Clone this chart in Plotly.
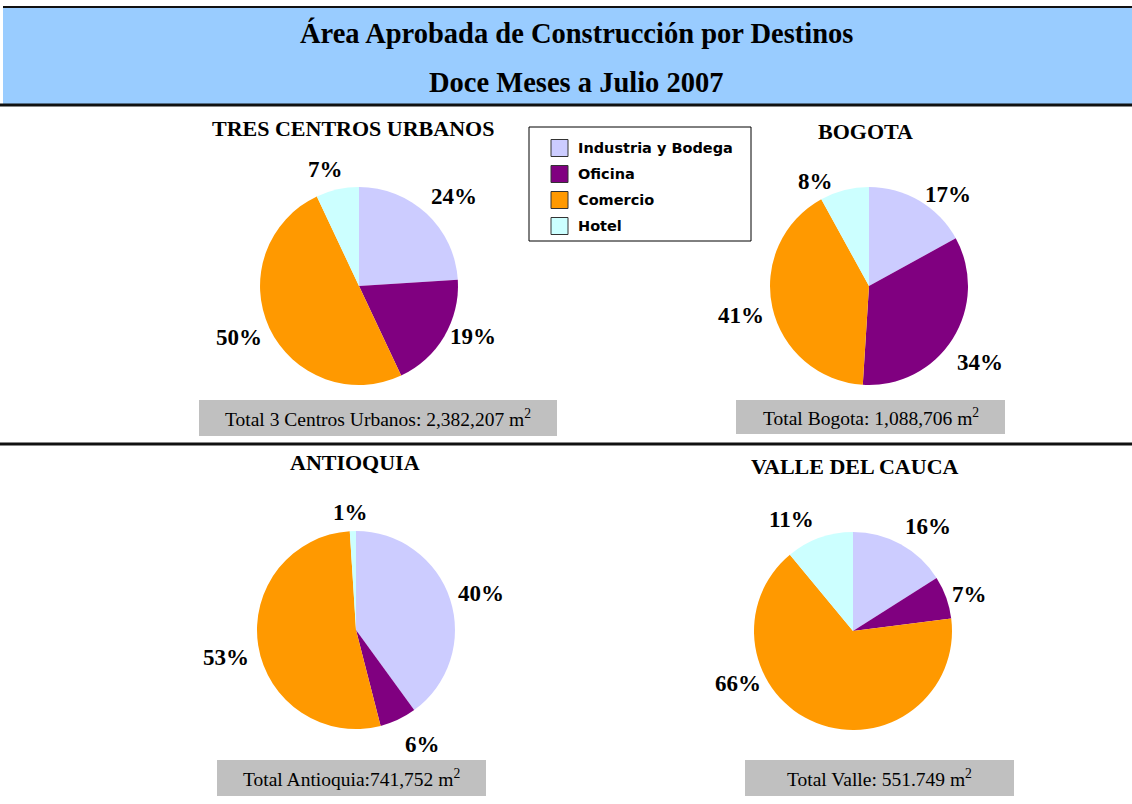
import plotly.graph_objects as go

W, H = 1132, 804

categories = ["Industria y Bodega", "Oficina", "Comercio", "Hotel"]
colors = ["#CCCCFF", "#800080", "#FF9900", "#CCFFFF"]

regions = ["TRES CENTROS URBANOS", "BOGOTA", "ANTIOQUIA", "VALLE DEL CAUCA"]
tres_centros = [24, 19, 50, 7]
bogota = [17, 34, 41, 8]
antioquia = [40, 6, 53, 1]
valle = [16, 7, 66, 11]
totals = [
    "Total 3 Centros Urbanos: 2,382,207 m<sup>2</sup>",
    "Total Bogota: 1,088,706 m<sup>2</sup>",
    "Total Antioquia:741,752 m<sup>2</sup>",
    "Total Valle: 551.749 m<sup>2</sup>",
]
series = [tres_centros, bogota, antioquia, valle]

# ---- layout (pixels) ----
centers = [(359, 286), (869, 286), (356, 630), (853, 631)]
R = 99
title_pos = [(353, 129), (865, 131), (355, 462), (855, 466)]
boxes = [(199, 400, 557, 436), (736, 400, 1005, 434), (217, 760, 486, 796), (745, 760, 1014, 796)]
# positions of the percentage labels (placed like the original chart)
label_pos = [
    [(454, 196), (473, 336), (239, 337), (325, 170)],
    [(948, 195), (980, 362), (741, 315), (815, 181)],
    [(481, 593), (422, 744), (226, 657), (350, 512)],
    [(928, 526), (969, 594), (738, 683), (791, 519)],
]


def px(x):
    return x / W


def py(y):
    return 1 - y / H


def text_ann(text, x, y, size, family="Liberation Serif", xanchor="center"):
    return dict(text=text, x=px(x), y=py(y), xref="paper", yref="paper", showarrow=False,
                xanchor=xanchor, yanchor="middle",
                font=dict(family=family, size=size, color="black"))


fig = go.Figure()
annotations = []
shapes = []

# title band
shapes.append(dict(type="rect", xref="paper", yref="paper", x0=px(3), x1=px(1132), y0=py(105), y1=py(7),
                   fillcolor="#99CCFF", line=dict(width=0), layer="below"))
shapes.append(dict(type="line", xref="paper", yref="paper", x0=px(3), x1=px(1132), y0=py(7), y1=py(7),
                   line=dict(color="#111111", width=2)))
shapes.append(dict(type="line", xref="paper", yref="paper", x0=px(0), x1=px(1132), y0=py(105), y1=py(105),
                   line=dict(color="#111111", width=3)))
shapes.append(dict(type="line", xref="paper", yref="paper", x0=px(0), x1=px(1132), y0=py(444), y1=py(444),
                   line=dict(color="#111111", width=3)))

annotations.append(text_ann("<b>Área Aprobada de Construcción por Destinos</b>", 576, 33, 28.5))
annotations.append(text_ann("<b>Doce Meses a Julio 2007</b>", 576, 82, 28.5))

for i, vals in enumerate(series):
    cx, cy = centers[i]
    fig.add_trace(go.Pie(
        labels=categories, values=vals, sort=False, direction="clockwise", rotation=0,
        marker=dict(colors=colors, line=dict(width=0)),
        textinfo="none", hoverinfo="label+percent", showlegend=False,
        domain=dict(x=[px(cx - R), px(cx + R)], y=[py(cy + R), py(cy - R)]),
    ))
    total = sum(vals)
    for v, (lx, ly) in zip(vals, label_pos[i]):
        annotations.append(text_ann(f"<b>{round(v / total * 100)}%</b>", lx, ly, 23))
    tx, ty = title_pos[i]
    annotations.append(text_ann(f"<b>{regions[i]}</b>", tx, ty, 22))
    x0, y0, x1, y1 = boxes[i]
    shapes.append(dict(type="rect", xref="paper", yref="paper", x0=px(x0), x1=px(x1), y0=py(y1), y1=py(y0),
                       fillcolor="#C0C0C0", line=dict(width=0)))
    annotations.append(text_ann(totals[i], (x0 + x1) / 2, (y0 + y1) / 2, 19.5))

# legend box
shapes.append(dict(type="rect", xref="paper", yref="paper", x0=px(529), x1=px(751), y0=py(241), y1=py(127),
                   fillcolor="white", line=dict(color="black", width=1)))
for k, (lab, col) in enumerate(zip(categories, colors)):
    yc = 148 + 26 * k
    shapes.append(dict(type="rect", xref="paper", yref="paper", x0=px(551), x1=px(568),
                       y0=py(yc + 8.5), y1=py(yc - 8.5), fillcolor=col, line=dict(color="#333333", width=1)))
    annotations.append(text_ann(f"<b>{lab}</b>", 576, yc, 14.5, family="DejaVu Sans", xanchor="left"))

fig.update_layout(
    width=W, height=H, margin=dict(l=0, r=0, t=0, b=0),
    paper_bgcolor="white", plot_bgcolor="white",
    shapes=shapes, annotations=annotations, showlegend=False,
)

fig.write_html("out.html", config={"displayModeBar": False},
               post_script="document.body.style.margin='0px';document.body.style.overflow='hidden';")
